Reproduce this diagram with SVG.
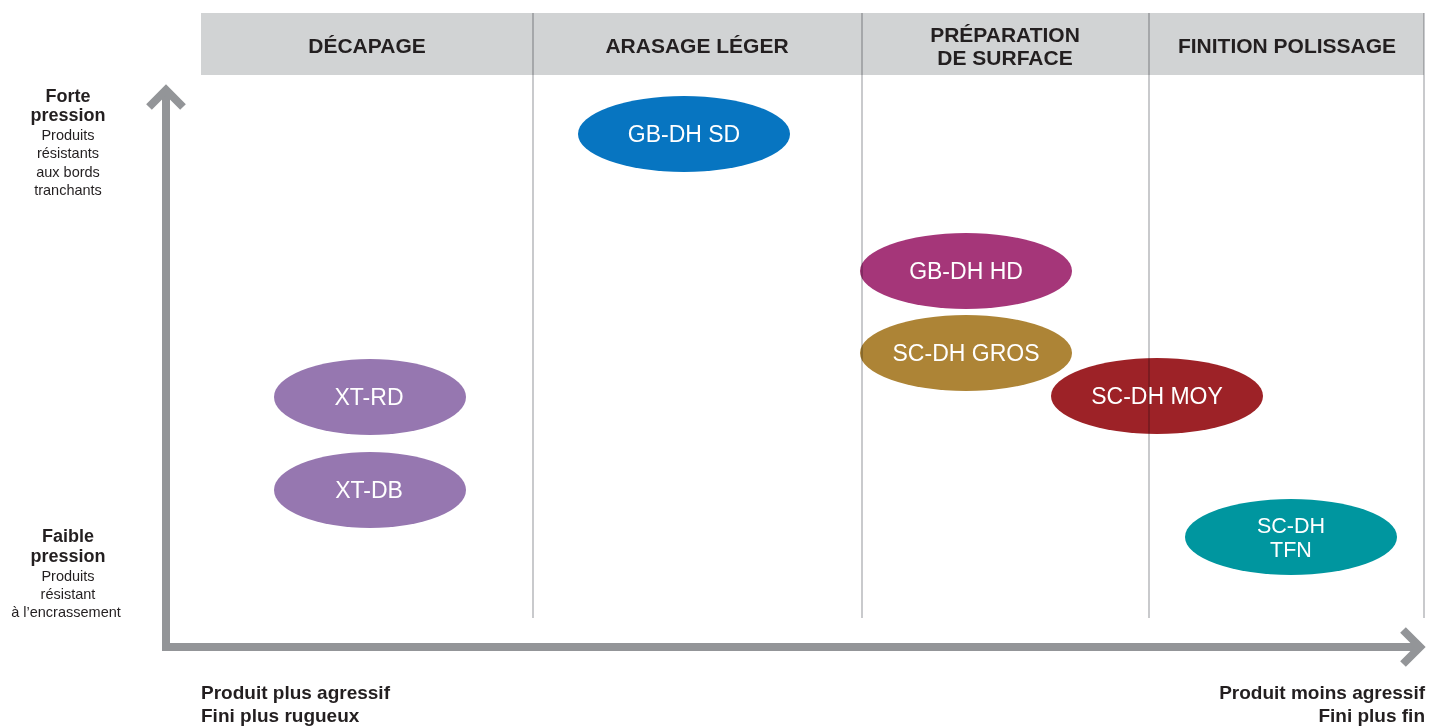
<svg xmlns="http://www.w3.org/2000/svg" width="1429" height="726" viewBox="0 0 1429 726">
<style>
.hdr{font-family:"Liberation Sans",Arial,sans-serif;font-weight:bold;font-size:21px;fill:#231f20;text-anchor:middle}
.grid{stroke:#bcbdc0;stroke-width:1.6;mix-blend-mode:multiply}
.ax{fill:none;stroke:#939598;stroke-width:8;stroke-linejoin:miter}
.lb{font-family:"Liberation Sans",Arial,sans-serif;font-weight:bold;font-size:18px;fill:#231f20;text-anchor:middle}
.ls{font-family:"Liberation Sans",Arial,sans-serif;font-size:14.5px;fill:#231f20;text-anchor:middle}
.bt{font-family:"Liberation Sans",Arial,sans-serif;font-weight:bold;font-size:19px;fill:#231f20}
.nt{font-family:"Liberation Sans",Arial,sans-serif;font-size:23px;fill:#ffffff;text-anchor:middle}
.nt2{font-family:"Liberation Sans",Arial,sans-serif;font-size:21.5px;fill:#ffffff;text-anchor:middle}
</style>
<rect width="1429" height="726" fill="#ffffff"/>
<g id="header">
<rect x="201" y="13" width="1223" height="62" fill="#d1d3d4"/>
<text class="hdr" x="367" y="53">DÉCAPAGE</text>
<text class="hdr" x="697" y="53">ARASAGE LÉGER</text>
<text class="hdr" x="1005" y="42">PRÉPARATION</text>
<text class="hdr" x="1005" y="65">DE SURFACE</text>
<text class="hdr" x="1287" y="53">FINITION POLISSAGE</text>
</g>
<g id="axis-labels">
<text class="lb" x="68" y="102">Forte</text>
<text class="lb" x="68" y="121">pression</text>
<text class="ls" x="68" y="140">Produits</text>
<text class="ls" x="68" y="158">résistants</text>
<text class="ls" x="68" y="177">aux bords</text>
<text class="ls" x="68" y="195">tranchants</text>
<text class="lb" x="68" y="542">Faible</text>
<text class="lb" x="68" y="562">pression</text>
<text class="ls" x="68" y="581">Produits</text>
<text class="ls" x="68" y="599">résistant</text>
<text class="ls" x="66" y="617">à l’encrassement</text>
<text class="bt" x="201" y="699">Produit plus agressif</text>
<text class="bt" x="201" y="722">Fini plus rugueux</text>
<text class="bt" x="1425" y="699" text-anchor="end">Produit moins agressif</text>
<text class="bt" x="1425" y="722" text-anchor="end">Fini plus fin</text>
</g>
<g id="node-xt-rd"><ellipse cx="370" cy="397" rx="96" ry="38" fill="#9677b0"/><text class="nt" x="369" y="405">XT-RD</text></g>
<g id="node-xt-db"><ellipse cx="370" cy="490" rx="96" ry="38" fill="#9677b0"/><text class="nt" x="369" y="498">XT-DB</text></g>
<g id="node-gb-dh-sd"><ellipse cx="684" cy="134" rx="106" ry="38" fill="#0775c1"/><text class="nt" x="684" y="142">GB-DH SD</text></g>
<g id="node-gb-dh-hd"><ellipse cx="966" cy="271" rx="106" ry="38" fill="#a53679"/><text class="nt" x="966" y="279">GB-DH HD</text></g>
<g id="node-sc-dh-gros"><ellipse cx="966" cy="353" rx="106" ry="38" fill="#ad8436"/><text class="nt" x="966" y="361">SC-DH GROS</text></g>
<g id="node-sc-dh-moy"><ellipse cx="1157" cy="396" rx="106" ry="38" fill="#9d2227"/><text class="nt" x="1157" y="404">SC-DH MOY</text></g>
<g id="node-sc-dh-tfn"><ellipse cx="1291" cy="537" rx="106" ry="38" fill="#00969f"/><text class="nt2" x="1291" y="533">SC-DH</text><text class="nt2" x="1291" y="557">TFN</text></g>
<g id="grid">
<line class="grid" x1="533" y1="13" x2="533" y2="618"/>
<line class="grid" x1="862" y1="13" x2="862" y2="618"/>
<line class="grid" x1="1149" y1="13" x2="1149" y2="618"/>
<line class="grid" x1="1424" y1="13" x2="1424" y2="618"/>
</g>
<g id="connectors">
<path class="ax" d="M166,93 L166,647 L1419,647"/>
<polyline class="ax" points="149,107 166,90 183,107"/>
<polyline class="ax" points="1403,630 1420,647 1403,664"/>
</g>
</svg>
